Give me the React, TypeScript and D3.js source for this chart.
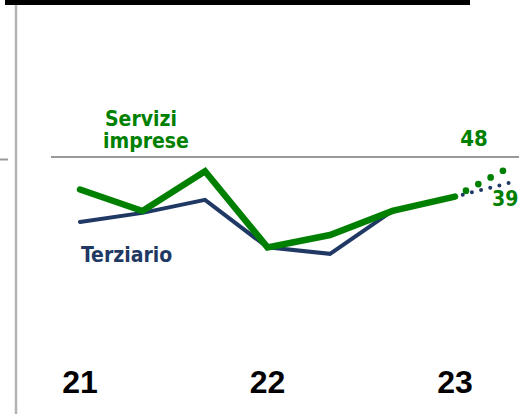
import React, { useEffect, useRef } from 'react';
import * as d3 from 'd3';

// quarterly-ish steps, labels on every third one
const tickLabels = ['21', '22', '23'];
const tickSteps = [0, 3, 6];

const serviziImprese = [45.0, 41.7, 47.8, 36.1, 38.0, 41.7, 43.9];
const terziario = [40.0, 41.4, 43.4, 36.1, 35.1, 41.7, 43.9];

// dotted projections: [step, value]
const serviziForecast: [number, number][] = [[6, 43.9], [6.77, 47.9]];
const terziarioForecast: [number, number][] = [[6, 43.9], [6.86, 46.0]];

const threshold = 50;
const endLabels = ['48', '39'];

const GREEN = '#008000';
const NAVY = '#1f3864';

export default function App() {
  const svgRef = useRef<SVGSVGElement>(null);

  useEffect(() => {
    if (!svgRef.current) return;
    const svg = d3.select(svgRef.current);
    svg.selectAll('*').remove();

    const x = d3.scaleLinear().domain([0, 6]).range([80, 455]);
    const y = d3.scaleLinear().domain([30, 50]).range([287, 157]);

    const labelFont = '"DejaVu Sans Condensed", "DejaVu Sans", sans-serif';

    // frame bits
    svg.append('rect').attr('x', 5).attr('y', 0).attr('width', 465).attr('height', 5).attr('fill', '#000');
    svg.append('line')
      .attr('x1', 16).attr('x2', 16).attr('y1', 5).attr('y2', 414)
      .attr('stroke', '#b4b4b4').attr('stroke-width', 2.5);
    svg.append('line')
      .attr('x1', 0).attr('x2', 8).attr('y1', y(threshold) + 2.5).attr('y2', y(threshold) + 2.5)
      .attr('stroke', '#9a9a9a').attr('stroke-width', 2);

    // 50 line
    svg.append('line')
      .attr('x1', 51).attr('x2', 519).attr('y1', y(threshold)).attr('y2', y(threshold))
      .attr('stroke', '#999').attr('stroke-width', 2);

    const line = d3.line<number>()
      .x((_, i) => x(i))
      .y(d => y(d));

    const fline = d3.line<[number, number]>()
      .x(d => x(d[0]))
      .y(d => y(d[1]));

    svg.append('path')
      .datum(terziario)
      .attr('d', line)
      .attr('fill', 'none')
      .attr('stroke', NAVY)
      .attr('stroke-width', 4)
      .attr('stroke-linecap', 'round');

    svg.append('path')
      .datum(serviziImprese)
      .attr('d', line)
      .attr('fill', 'none')
      .attr('stroke', GREEN)
      .attr('stroke-width', 6.5)
      .attr('stroke-linecap', 'round');

    svg.append('path')
      .datum(terziarioForecast)
      .attr('d', fline)
      .attr('fill', 'none')
      .attr('stroke', NAVY)
      .attr('stroke-width', 4)
      .attr('stroke-linecap', 'round')
      .attr('stroke-dasharray', '0 9.45')
      .attr('stroke-dashoffset', 1.45);

    svg.append('path')
      .datum(serviziForecast)
      .attr('d', fline)
      .attr('fill', 'none')
      .attr('stroke', GREEN)
      .attr('stroke-width', 6.7)
      .attr('stroke-linecap', 'round')
      .attr('stroke-dasharray', '0 14')
      .attr('stroke-dashoffset', 1.5);

    // series labels
    const serv = svg.append('text')
      .attr('font-family', labelFont)
      .attr('font-weight', 'bold')
      .attr('font-size', 21)
      .attr('fill', GREEN);
    serv.append('tspan').attr('x', 105).attr('y', 126).text('Servizi');
    serv.append('tspan').attr('x', 103).attr('y', 148).text('imprese');

    svg.append('text')
      .attr('x', 81).attr('y', 261.5)
      .attr('font-family', labelFont)
      .attr('font-weight', 'bold')
      .attr('font-size', 21)
      .attr('fill', NAVY)
      .text('Terziario');

    svg.append('text')
      .attr('x', 474).attr('y', 146)
      .attr('text-anchor', 'middle')
      .attr('font-family', labelFont)
      .attr('font-weight', 'bold')
      .attr('font-size', 22)
      .attr('fill', GREEN)
      .text(endLabels[0]);

    svg.append('text')
      .attr('x', 492).attr('y', 206)
      .attr('font-family', labelFont)
      .attr('font-weight', 'bold')
      .attr('font-size', 21)
      .attr('fill', GREEN)
      .text(endLabels[1]);

    // year labels
    svg.append('g')
      .selectAll('text')
      .data(tickLabels)
      .join('text')
      .attr('x', (_, i) => x(tickSteps[i]))
      .attr('y', 393)
      .attr('text-anchor', 'middle')
      .attr('font-family', '"Liberation Sans", Arial, sans-serif')
      .attr('font-weight', 'bold')
      .attr('font-size', 32)
      .attr('fill', '#000')
      .text(d => d);
  }, []);

  return (
    <svg
      ref={svgRef}
      width={519}
      height={414}
      style={{ position: 'absolute', left: 0, top: 0, background: '#fff' }}
    />
  );
}
